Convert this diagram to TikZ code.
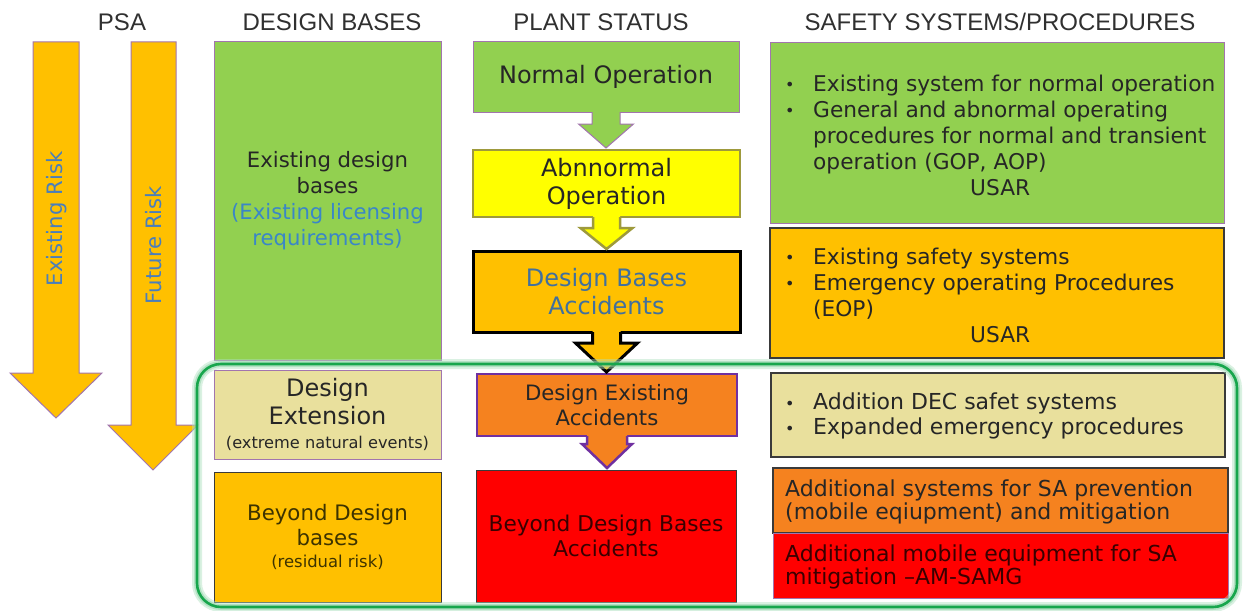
\documentclass[tikz,border=0pt]{standalone}
\usepackage{fontspec}
\setmainfont{DejaVu Sans}
\newfontfamily\hdfont{Liberation Sans}
\usetikzlibrary{calc}
\definecolor{bgreen}{HTML}{92D050}
\definecolor{bamber}{HTML}{FFC000}
\definecolor{byellow}{HTML}{FFFF00}
\definecolor{borange}{HTML}{F5821F}
\definecolor{bred}{HTML}{FF0000}
\definecolor{bkhaki}{HTML}{E9E09D}
\definecolor{thinpurple}{HTML}{A275AE}
\definecolor{deeppurple}{HTML}{7030A0}
\definecolor{olivebd}{HTML}{9E9A3C}
\definecolor{darkbd}{HTML}{3A3A3A}
\definecolor{txt}{HTML}{262626}
\definecolor{hdtxt}{HTML}{303030}
\definecolor{lblue}{HTML}{3A86C8}
\definecolor{steelblue}{HTML}{41709E}
\definecolor{risktxt}{HTML}{4A7EBB}
\definecolor{olivetxt}{HTML}{3D3300}
\definecolor{redtxt}{HTML}{3A0000}
\definecolor{framegreen}{HTML}{17A64C}
\newcommand\fs[2]{\fontsize{#1}{#2}\selectfont}
\newcommand\bul{\makebox[28pt][l]{\raisebox{0.5pt}{\fs{16}{16}•}}}
\newcommand\ind{\hspace*{28pt}}
\newcommand\flowarrow[7]{%
  \fill[#3] let \p1=(#1.south), \p2=(#2.north) in
    (\x1-#5, \y1+2) -- (\x1-#5, \y2+2+#7) -- (\x1-#6, \y2+2+#7) -- (\x1, \y2+2)
    -- (\x1+#6, \y2+2+#7) -- (\x1+#5, \y2+2+#7) -- (\x1+#5, \y1+2) -- cycle;
  \draw[#4] let \p1=(#1.south), \p2=(#2.north) in
    (\x1-#5, \y1) -- (\x1-#5, \y2+2+#7) -- (\x1-#6, \y2+2+#7) -- (\x1, \y2+2)
    -- (\x1+#6, \y2+2+#7) -- (\x1+#5, \y2+2+#7) -- (\x1+#5, \y1);
}
\begin{document}
\begin{tikzpicture}[x=1pt,y=-1pt,
  hd/.style={inner sep=0pt, font=\hdfont\fs{24}{28}, text=hdtxt},
  box/.style={rectangle, inner sep=0pt, outer sep=0pt, align=center, text=txt},
  risk/.style={fill=bamber, draw=thinpurple, line width=1pt},
  risklbl/.style={inner sep=0pt, rotate=90, font=\fs{21.2}{26}, text=risktxt},
  rtext/.style={anchor=west, inner sep=0pt, align=left, text=txt}
]
\useasboundingbox (0,0) rectangle (1244,610);
\fill[white] (0,0) rectangle (1244,610);

% headers
\node[hd] (hpsa) at (122,22) {PSA};
\node[hd] (hdb) at (332,22) {DESIGN BASES};
\node[hd] (hps) at (601,22) {PLANT STATUS};
\node[hd] (hss) at (1000,22) {SAFETY SYSTEMS/PROCEDURES};

% risk arrows
\filldraw[risk] (33,42) -- (33,373) -- (10,373) -- (56,418) -- (102,373) -- (79,373) -- (79,42) -- cycle;
\filldraw[risk] (131,42) -- (131,425) -- (108,425) -- (153,470) -- (198,425) -- (176,425) -- (176,42) -- cycle;
\node[risklbl] (er) at (57,219) {Existing Risk};
\node[risklbl] (fr) at (154,245) {Future Risk};

% design bases column
\node[box, fill=bgreen, draw=thinpurple, line width=1pt, minimum width=227pt, minimum height=318pt, font=\fs{21.2}{26}] (edb) at (327.5,201)
  {Existing design\\ bases\\ \textcolor{lblue}{(Existing licensing}\\ \textcolor{lblue}{requirements)}};
\node[box, fill=bkhaki, draw=thinpurple, line width=1pt, minimum width=227pt, minimum height=89pt, font=\fs{24}{28}] (dext) at (327.5,414.5)
  {Design\\ Extension\\[-4pt] {\fs{16.2}{18}(extreme natural events)}};
\node[box, fill=bamber, draw=darkbd, line width=1pt, minimum width=227pt, minimum height=130pt, font=\fs{21.3}{25}, text=olivetxt] (bdb) at (327.5,537)
  {Beyond Design\\ bases\\[-3pt] {\fs{16.4}{18}(residual risk)}};

% plant status column
\node[box, fill=bgreen, draw=thinpurple, line width=1pt, minimum width=266pt, minimum height=70pt, font=\fs{24}{28}] (no) at (606,77) {Normal Operation};
\node[box, fill=byellow, draw=olivebd, line width=2.5pt, minimum width=267pt, minimum height=67pt, font=\fs{24}{28}] (ao) at (606.5,183.5) {Abnnormal\\ Operation};
\node[box, fill=bamber, draw=black, line width=3pt, minimum width=267pt, minimum height=81pt, font=\fs{24}{28}, text=steelblue] (dba) at (606.5,291.5) {Design Bases\\ Accidents};
\node[box, fill=borange, draw=deeppurple, line width=2.5pt, minimum width=260pt, minimum height=62pt, font=\fs{21.2}{25}] (dea) at (607,405) {Design Existing\\ Accidents};
\node[box, fill=bred, draw=darkbd, line width=1pt, minimum width=260pt, minimum height=132pt, font=\fs{21.7}{25}, text=redtxt] (bdba) at (606,536) {Beyond Design Bases\\ Accidents};

\flowarrow{no}{ao}{bgreen}{draw=thinpurple, line width=1pt}{14}{27.5}{24}
\flowarrow{ao}{dba}{byellow}{draw=olivebd, line width=2.5pt}{13.5}{26}{21}
\flowarrow{dba}{dea}{bamber}{draw=black, line width=3pt}{14}{31}{29}
\flowarrow{dea}{bdba}{borange}{draw=deeppurple, line width=2.5pt}{20}{25}{24}

% safety systems column
\node[box, fill=bgreen, draw=thinpurple, line width=1pt, minimum width=454pt, minimum height=180pt] (ss1) at (997,133) {};
\node[box, fill=bamber, draw=darkbd, line width=1.2pt, minimum width=454pt, minimum height=130pt] (ss2) at (997,293) {};
\node[box, fill=bkhaki, draw=darkbd, line width=1.2pt, minimum width=454pt, minimum height=84pt] (ss3) at (998,415) {};
\node[box, fill=borange, draw=darkbd, line width=1.2pt, minimum width=455pt, minimum height=65pt] (ss4) at (1000.5,500.5) {};
\node[box, fill=bred, draw=thinpurple, line width=0.8pt, minimum width=455pt, minimum height=65pt] (ss5) at (1000.5,565.5) {};
\draw[darkbd, line width=1.2pt] (ss4.north west) -- (ss4.north east) -- (ss4.south east);
\draw[darkbd, line width=1.2pt] (ss4.north west) -- (ss4.south west);

\node[rtext, font=\fs{21.7}{26}] (t1) at (785,135)
  {\bul Existing system for normal operation\\
   \bul General and abnormal operating\\
   \ind procedures for normal and transient\\
   \ind operation (GOP, AOP)\\
   \makebox[430pt][c]{USAR}};
\node[rtext, font=\fs{21.7}{26}] (t2) at (785,295)
  {\bul Existing safety systems\\
   \bul Emergency operating Procedures\\
   \ind (EOP)\\
   \makebox[430pt][c]{USAR}};
\node[rtext, font=\fs{22}{25}] (t3) at (785,416)
  {\bul Addition DEC safet systems\\
   \bul Expanded emergency procedures};
\node[rtext, font=\fs{22}{23}] (t4) at (785,502)
  {Additional systems for SA prevention\\ (mobile eqiupment) and mitigation};
\node[rtext, font=\fs{22}{23}, text=redtxt] (t5) at (785,567)
  {Additional mobile equipment for SA\\ mitigation --AM-SAMG};

% green frame with glow
\draw[framegreen!35, opacity=0.45, line width=10pt, rounded corners=24pt] (197,364) rectangle (1237,607);
\draw[framegreen!50, opacity=0.5, line width=6pt, rounded corners=24pt] (197,364) rectangle (1237,607);
\draw[framegreen, line width=2.6pt, rounded corners=24pt] (197,364) rectangle (1237,607);
\end{tikzpicture}
\end{document}
